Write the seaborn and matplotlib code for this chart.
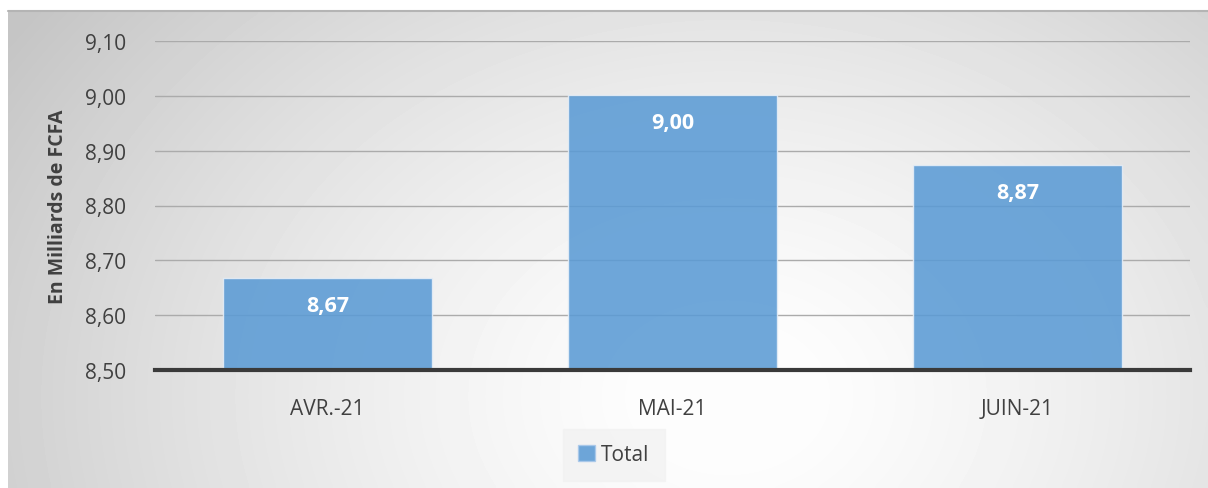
import numpy as np
import pandas as pd
import matplotlib
matplotlib.use("Agg")
import matplotlib.pyplot as plt
import seaborn as sns
from matplotlib.lines import Line2D
from matplotlib.patches import Patch

# --- data ---
months = ["AVR.-21", "MAI-21", "JUIN-21"]
totals = [8.668, 9.002, 8.874]
y_ticks = [8.50, 8.60, 8.70, 8.80, 8.90, 9.00, 9.10]

df = pd.DataFrame({"mois": months, "total": totals})

sns.set_style("white")
plt.rcParams["font.family"] = ["Open Sans", "DejaVu Sans"]

W, H = 1208, 489
fig = plt.figure(figsize=(W / 100, H / 100), dpi=100)
fig.patch.set_facecolor("white")

# --- radial grey gradient behind the chart ---
bg = fig.add_axes([8 / W, 0, 1200 / W, 477 / H])
gx, gy = np.meshgrid(np.linspace(0, 1200, 300), np.linspace(0, 477, 120))
cx, cy = 720, 90  # lightest spot (bottom-middle, y measured from bottom)
d = np.sqrt(((gx - cx) / 780) ** 2 + ((gy - cy) / 600) ** 2)
shade = np.clip(1.0 - 0.2 * d ** 1.4, 0.77, 0.99)
bg.imshow(shade, cmap="gray", vmin=0, vmax=1, origin="lower",
          extent=[0, 1200, 0, 477], aspect="auto", interpolation="bicubic")
bg.axis("off")
fig.add_artist(Line2D([8 / W, 1], [477 / H, 477 / H], color="#b4b4b4", lw=1.5))

# --- main plot ---
ax = fig.add_axes([155 / W, 118 / H, 1035 / W, 329 / H])
ax.patch.set_alpha(0)
ax.set_axisbelow(True)
ax.yaxis.grid(True, color="#ababab", lw=1)

sns.barplot(data=df, x="mois", y="total", color="#5b9bd5", alpha=0.88,
            saturation=1, width=0.605, edgecolor="#e6eef7", linewidth=1, ax=ax)

ax.set_ylim(8.50, 9.10)
ax.set_yticks(y_ticks)
ax.set_yticklabels([f"{v:.2f}".replace(".", ",") for v in y_ticks],
                   fontsize=15, color="#404040")
ax.tick_params(axis="y", length=0, pad=21)
ax.tick_params(axis="x", length=0, pad=20, labelsize=15, labelcolor="#404040")
ax.set_xlabel("")
ax.set_ylabel("En Milliards de FCFA", fontsize=14, fontweight="bold",
              color="#404040", labelpad=12)

for s in ["top", "right", "left"]:
    ax.spines[s].set_visible(False)
ax.spines["bottom"].set_color("#3a3a3a")
ax.spines["bottom"].set_linewidth(3)

for bar, v in zip(ax.patches, totals):
    ax.text(bar.get_x() + bar.get_width() / 2, v - 0.05,
            f"{v:.2f}".replace(".", ","), ha="center", va="center",
            color="white", fontsize=15.5, fontweight="bold")

handle = Patch(facecolor="#5b9bd5", alpha=0.88, edgecolor="#a9c8ea")
fig.legend([handle], ["Total"], loc="center", bbox_to_anchor=(614 / W, (489 - 456) / H),
           frameon=True, facecolor="#f2f2f2", edgecolor="#f2f2f2", fancybox=False,
           fontsize=15, handlelength=0.8, handleheight=0.8, handletextpad=0.3,
           borderpad=0.75, labelcolor="#404040")

fig.savefig("out.png", dpi=100)
